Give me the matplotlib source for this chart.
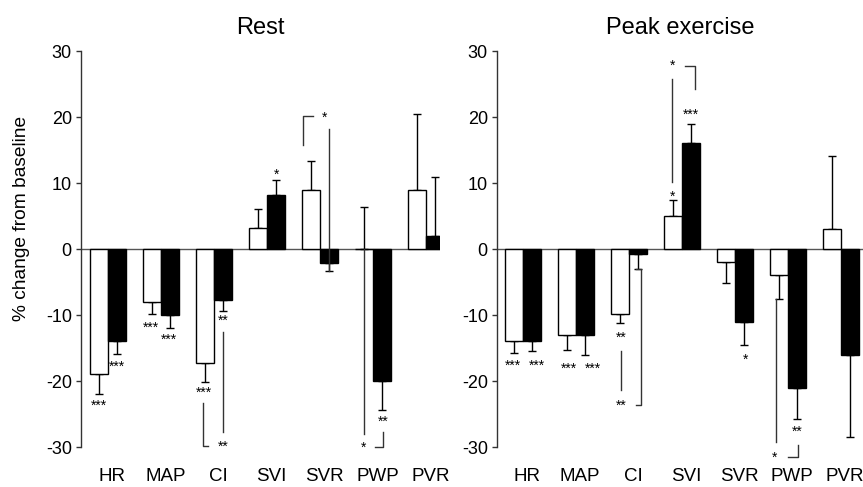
import matplotlib
matplotlib.use('Agg')
import matplotlib.pyplot as plt
import numpy as np

plt.rcParams['font.family'] = ['Liberation Sans', 'DejaVu Sans']
plt.rcParams['axes.unicode_minus'] = False

# ---------------- data ----------------
categories = ['HR', 'MAP', 'CI', 'SVI', 'SVR', 'PWP', 'PVR']
yticks = [-30, -20, -10, 0, 10, 20, 30]

rest_white = [-19.0, -8.0, -17.2, 3.2, 9.0, 0.0, 9.0]
rest_white_err = [2.9, 1.9, 2.9, 2.8, 4.3, 6.4, 11.4]
rest_black = [-14.0, -10.0, -7.8, 8.2, -2.1, -20.0, 2.0]
rest_black_err = [1.9, 1.9, 1.6, 2.2, 1.2, 4.4, 8.9]

peak_white = [-14.0, -13.0, -9.8, 5.0, -2.0, -4.0, 3.1]
peak_white_err = [1.7, 2.3, 1.4, 2.4, 3.1, 3.5, 11.0]
peak_black = [-14.0, -13.0, -0.8, 16.1, -11.1, -21.0, -16.1]
peak_black_err = [1.5, 3.0, 2.3, 2.9, 3.5, 4.7, 12.4]

# significance marks: (x position in category units, y value, text)
rest_stars = [(-0.17, -23.2, '***'), (0.17, -17.3, '***'),
              (0.81, -11.3, '***'), (1.15, -13.2, '***'),
              (1.80, -21.1, '***'), (2.17, -10.3, '**'), (2.18, -29.3, '**'),
              (3.17, 11.8, '*'), (4.09, 20.5, '*'),
              (4.82, -29.5, '*'), (5.18, -25.6, '**')]
peak_stars = [(-0.19, -17.1, '***'), (0.26, -17.1, '***'),
              (0.87, -17.5, '***'), (1.31, -17.5, '***'),
              (1.85, -12.8, '**'), (1.85, -23.1, '**'),
              (2.825, 8.5, '*'), (2.815, 28.4, '*'), (3.17, 20.9, '***'),
              (4.19, -16.1, '*'), (5.18, -27.1, '**'), (4.755, -31.0, '*')]

# connector lines: lists of (x, y) vertices in category units / % values
rest_links = [[(1.798, -23.4), (1.798, -29.8), (1.892, -29.8)],
              [(2.17, -12.6), (2.17, -27.7)],
              [(3.674, 15.8), (3.674, 20.2), (3.874, 20.2)],
              [(4.17, -3.3), (4.17, 18.25)],
              [(4.83, 0.0), (4.83, -28.0)],
              [(5.038, -30.0), (5.194, -30.0), (5.194, -27.8)]]
peak_links = [[(1.843, -15.4), (1.843, -21.4)],
              [(2.13, -3.0), (2.221, -3.0), (2.221, -23.7), (2.132, -23.7)],
              [(2.817, 10.2), (2.817, 25.7)],
              [(3.057, 27.7), (3.245, 27.7), (3.245, 24.3)],
              [(4.768, -7.5), (4.768, -29.3)],
              [(5.006, -31.5), (5.183, -31.5), (5.183, -29.7)]]

# ---------------- figure ----------------
W, H = 863, 487
fig = plt.figure(figsize=(W / 100, H / 100), dpi=100)


def px_axes(x0, x1, y_top, y_bot):
    return fig.add_axes([x0 / W, 1 - y_bot / H, (x1 - x0) / W, (y_bot - y_top) / H])


def panel(ax, white, white_err, black, black_err, stars, links, title, xlim):
    x = np.arange(len(categories))
    w = 0.34
    white = np.array(white); black = np.array(black)
    we = np.array(white_err); be = np.array(black_err)
    ax.axhline(0, color='#555555', lw=1.0, zorder=1)
    for xs, vals, errs, col in ((x - w / 2, white, we, 'white'), (x + w / 2, black, be, 'black')):
        lower = np.where(vals < 0, errs, 0)
        upper = np.where(vals >= 0, errs, 0)
        ax.errorbar(xs, vals, yerr=[lower, upper], fmt='none', ecolor='black',
                    elinewidth=1.0, capsize=3, capthick=1.0, zorder=2)
        ax.bar(xs, vals, w, color=col, edgecolor='black', linewidth=1.0, zorder=3)
    for pts in links:
        px, py = zip(*pts)
        ax.plot(px, py, color='#333333', lw=1.0, clip_on=False, zorder=4)
    fs = 10
    for sx, sy, s in stars:
        ax.annotate(s, (sx, sy), xytext=(0, -0.58 * fs), textcoords='offset points',
                    ha='center', va='baseline', fontsize=fs, annotation_clip=False)
    ax.set_xlim(*xlim)
    ax.set_ylim(-30, 30)
    ax.set_yticks(yticks)
    ax.set_yticklabels([str(t) for t in yticks], fontsize=13)
    ax.set_xticks(x + 0.08)
    ax.set_xticklabels(categories, fontsize=13.5)
    ax.tick_params(axis='x', length=0, pad=15)
    ax.tick_params(axis='y', direction='out', length=3.6, width=1, pad=3, color='#333333')
    for s in ('top', 'right', 'bottom'):
        ax.spines[s].set_visible(False)
    ax.spines['left'].set_color('#333333')
    ax.spines['left'].set_linewidth(1.0)
    ax.patch.set_alpha(0)
    ax.set_title(title, fontsize=17, pad=12)


ax1 = px_axes(81, 440, 51, 447)
ax2 = px_axes(497, 863, 51, 447)
panel(ax1, rest_white, rest_white_err, rest_black, rest_black_err, rest_stars, rest_links,
      'Rest', (-0.51, 6.26))
panel(ax2, peak_white, peak_white_err, peak_black, peak_black_err, peak_stars, peak_links,
      'Peak exercise', (-0.49, 6.415))

fig.text(22 / W, 1 - 218 / H, '% change from baseline', rotation=90,
         ha='center', va='center', fontsize=13.8)

fig.savefig('out.png', dpi=100)
